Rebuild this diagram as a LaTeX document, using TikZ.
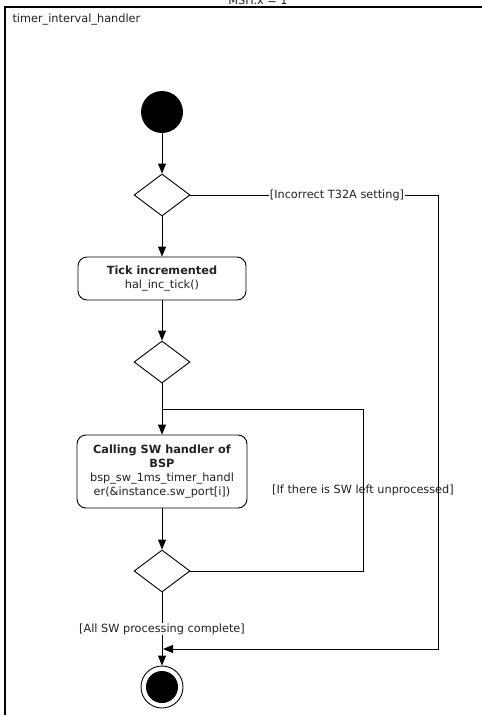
\documentclass[tikz,border=0pt]{standalone}
\usepackage{fontspec}
\setmainfont{DejaVu Sans}
\usetikzlibrary{arrows.meta,shapes.geometric}
\definecolor{txt}{HTML}{222222}
\begin{document}
\begin{tikzpicture}[x=1pt,y=-1pt,
  every node/.style={font=\fontsize{11.3}{13.8}\selectfont,text=txt},
  flow/.style={draw,line width=1pt},
  arr/.style={flow,-{Triangle[length=10pt,width=8pt]}},
  decision/.style={draw,line width=0.9pt,diamond,minimum width=56pt,minimum height=42pt,inner sep=0pt},
  action/.style={draw,line width=0.9pt,rounded corners=9pt,align=center,inner sep=2pt},
  guard/.style={inner sep=1pt}]
\useasboundingbox (0,0) rectangle (482,715);
\clip (0,0) rectangle (482,715);
\fill[white] (0,0) rectangle (482,715);
% frame
\draw[line width=1.6pt] (495,7) -- (5,7) -- (5,730);
\node[anchor=base] (msh) at (258,4) {MSH.x = 1};
\node[anchor=west] (title) at (9,20) {timer\_interval\_handler};
% nodes
\node[circle,fill=black,minimum size=42pt,inner sep=0pt] (init) at (162,112) {};
\node[decision] (d1) at (162,195) {};
\node[action,minimum width=168pt,minimum height=43pt] (b1) at (162,278.5) {\textbf{Tick incremented}\\hal\_inc\_tick()};
\node[decision] (d2) at (162,362) {};
\node[action,minimum width=170pt,minimum height=73pt] (b2) at (162,471.5) {\textbf{Calling SW handler of}\\\textbf{BSP}\\bsp\_sw\_1ms\_timer\_handl\\er(\&instance.sw\_port[i])};
\node[decision] (d3) at (162,571) {};
\node[circle,draw,line width=0.9pt,minimum size=42pt,inner sep=0pt] (fin) at (162,687) {};
\node[circle,fill=black,minimum size=32pt,inner sep=0pt] (finin) at (fin.center) {};
% coordinates
\coordinate (j) at (162,409);
\coordinate (lr) at (363,409);
\coordinate (tr) at (438,195);
\coordinate (br) at (438,649);
\coordinate (m) at (163,649);
% connectors
\draw[arr] (init) -- (d1);
\draw[arr] (d1) -- (b1);
\draw[arr] (b1) -- (d2);
\draw[arr] (d2.south) -- (b2.north);
\draw[arr] (b2) -- (d3);
\draw[flow] (d3.east) -| (lr) -- (j);
\draw[arr] (d3.south) -- (fin.north);
\draw[arr] (d1.east) -- (tr) -- (br) -- (m);
% guards
\node[guard,fill=white] (g1) at (337,195) {[Incorrect T32A setting]};
\node[guard] (g2) at (363,490) {[If there is SW left unprocessed]};
\node[guard,fill=white] (g3) at (162,629) {[All SW processing complete]};
\end{tikzpicture}
\end{document}
